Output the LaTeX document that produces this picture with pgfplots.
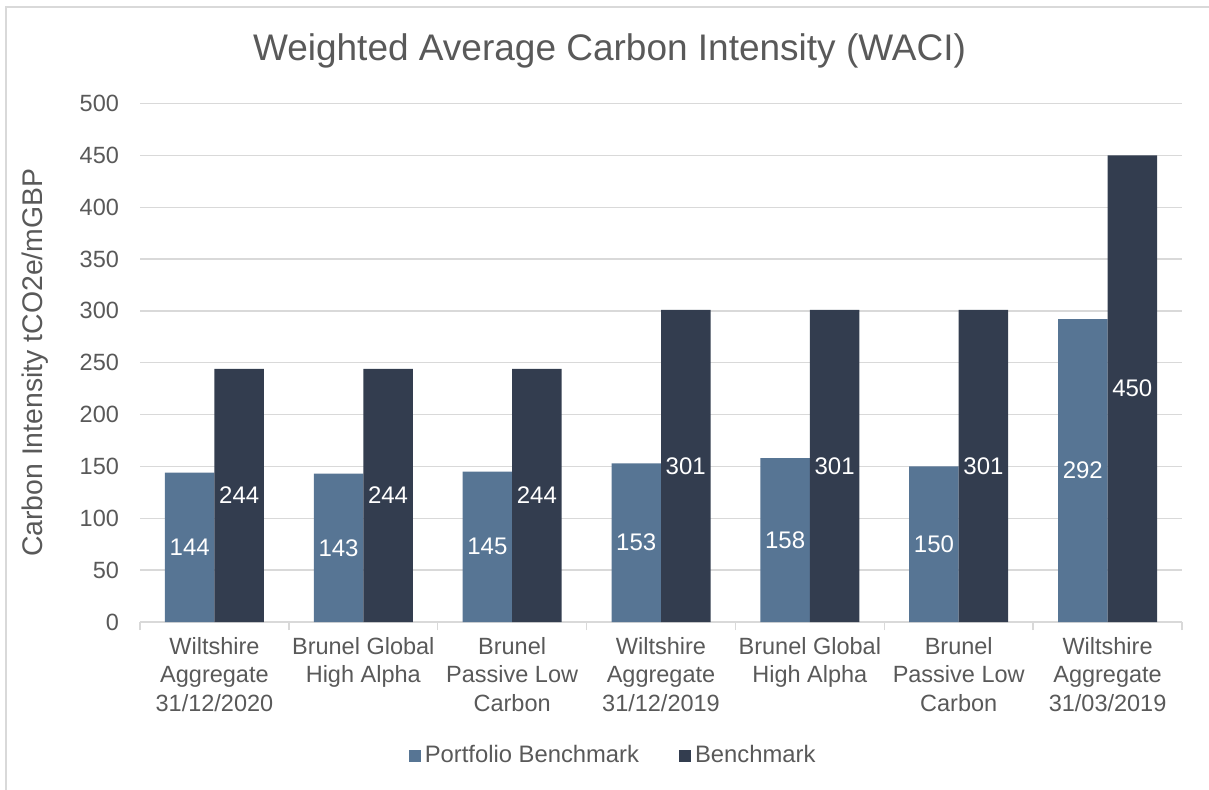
\documentclass[border=0pt]{standalone}
\usepackage{pgfplots}
\pgfplotsset{compat=1.18}
\usepackage{fontspec}
\setmainfont{Liberation Sans}
\definecolor{portf}{HTML}{577594}
\definecolor{bench}{HTML}{333D4F}
\definecolor{gridgrey}{HTML}{D9D9D9}
\definecolor{txt}{HTML}{595959}
\pgfplotsset{
  sqleg/.style={legend image code/.code={\fill[##1,draw=none] (0pt,-3pt) rectangle (6pt,3pt);}},
}
\begin{document}
\begin{tikzpicture}
\useasboundingbox (0,0) rectangle (604.5pt,-395pt);
\draw[gridgrey, line width=0.75pt] (3pt,-400pt) -- (3pt,-3.5pt) -- (610pt,-3.5pt);
\node[anchor=base, font=\fontsize{18.5}{22}\selectfont, text=txt, inner sep=0pt] at (304.75pt,-30.5pt) {Weighted Average Carbon Intensity (WACI)};
\begin{axis}[
  at={(70pt,-311pt)}, anchor=south west,
  scale only axis, width=521pt, height=259.25pt,
  /pgf/number format/assume math mode=true,
  ymin=0, ymax=500, ytick={0,50,...,500},
  xmin=-0.5, xmax=6.5,
  xtick={0,...,6},
  xticklabels={{Wiltshire\\Aggregate\\31/12/2020},{Brunel Global\\High Alpha},{Brunel\\Passive Low\\Carbon},{Wiltshire\\Aggregate\\31/12/2019},{Brunel Global\\High Alpha},{Brunel\\Passive Low\\Carbon},{Wiltshire\\Aggregate\\31/03/2019}},
  minor xtick={-0.5,0.5,...,6.5},
  separate axis lines,
  axis x line*=bottom, axis y line*=left,
  y axis line style={draw=none},
  x axis line style={draw=gridgrey, line width=0.75pt, -},
  tick align=outside,
  major tick length=0pt,
  minor tick length=4pt,
  minor tick style={draw=gridgrey, line width=0.75pt},
  ymajorgrids, major grid style={draw=gridgrey, line width=0.7pt},
  yticklabel style={font=\fontsize{11.75}{14}\selectfont, text=txt, anchor=east, xshift=-7pt},
  xticklabel style={font=\fontsize{11.75}{14.25}\selectfont, text=txt, align=center, anchor=north, yshift=-4pt},
  ylabel={Carbon Intensity tCO2e/mGBP},
  ylabel style={font=\fontsize{14.2}{16}\selectfont, text=txt, at={(axis description cs:-0.101,0.5)}, anchor=center, rotate=0},
  ybar=0pt, bar width=24.75pt,
  nodes near coords,
  visualization depends on=y \as \rawy,
  nodes near coords style={font=\fontsize{12}{14}\selectfont, text=white, anchor=center, shift={(axis direction cs:0,-\rawy/2)}},
  legend style={at={(axis description cs:0.455,-0.258)}, anchor=center, draw=none, fill=none, legend columns=2, font=\fontsize{11.9}{14}\selectfont, text=txt, /tikz/every even column/.append style={column sep=18pt}},
]
\addplot[fill=portf, draw=none, sqleg] coordinates {(0,144) (1,143) (2,145) (3,153) (4,158) (5,150) (6,292)};
\addplot[fill=bench, draw=none, sqleg] coordinates {(0,244) (1,244) (2,244) (3,301) (4,301) (5,301) (6,450)};
\legend{Portfolio Benchmark, Benchmark}
\end{axis}
\end{tikzpicture}
\end{document}
